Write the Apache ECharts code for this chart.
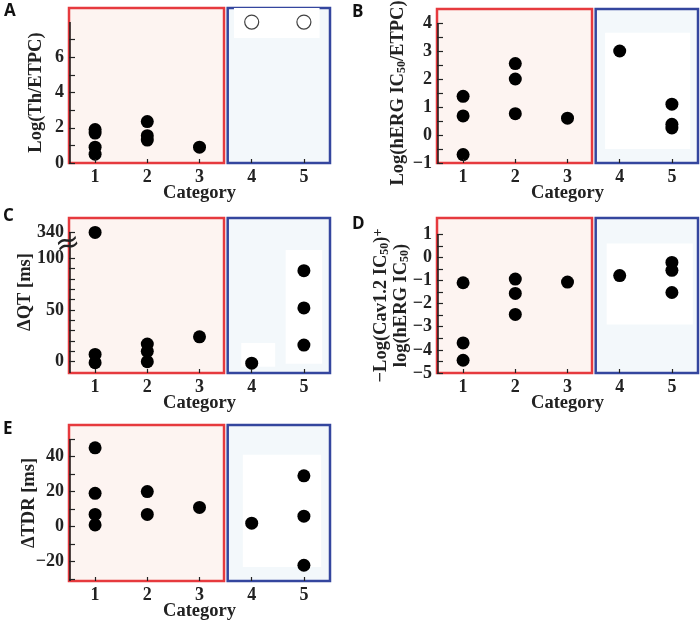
<!DOCTYPE html>
<html><head><meta charset="utf-8">
<script src="https://cdn.jsdelivr.net/npm/echarts@6/dist/echarts.min.js"></script>
<style>html,body{margin:0;padding:0;background:#fff}#c{width:700px;height:620px}</style>
</head><body><div id="c"></div>
<script>
// ---------- data ----------
const categories = [1, 2, 3, 4, 5];

// Panel A: Log(Th/ETPC)
const catA = [1, 1, 1, 1, 2, 2, 2, 3];
const valA = [1.9, 1.7, 0.9, 0.5, 2.35, 1.55, 1.3, 0.9];
const catAOpen = [4, 5];
const valAOpen = [8, 8];
const ticksA = [0, 2, 4, 6];

// Panel B: Log(hERG IC50/ETPC)
const catB = [1, 1, 1, 2, 2, 2, 3, 4, 5, 5, 5];
const valB = [1.38, 0.68, -0.7, 2.55, 2.0, 0.76, 0.6, 3.0, 1.1, 0.38, 0.25];
const ticksB = [-1, 0, 1, 2, 3, 4];

// Panel C: ΔQT [ms]  (axis broken between 100 and 340)
const catC = [1, 1, 1, 2, 2, 2, 3, 4, 5, 5, 5];
const valC = [340, 7, -1, 17, 10, 0, 24, -1.5, 88, 52, 16];
const ticksC = [0, 50, 100, 340];

// Panel D: -Log(Cav1.2 IC50)+log(hERG IC50)
const catD = [1, 1, 1, 2, 2, 2, 3, 4, 5, 5, 5];
const valD = [-1.1, -3.7, -4.45, -0.94, -1.56, -2.47, -1.07, -0.79, -0.22, -0.56, -1.52];
const ticksD = [-5, -4, -3, -2, -1, 0, 1];

// Panel E: ΔTDR [ms]
const catE = [1, 1, 1, 1, 2, 2, 3, 4, 5, 5, 5];
const valE = [45, 19, 7, 1, 20, 7, 11, 2, 29, 6, -22];
const ticksE = [-20, 0, 20, 40];

// ---------- helpers ----------
const BREAK_LO = 110, BREAK_SHIFT = 215; // values above the break are shifted down by 215
const brk = v => (v > BREAK_LO ? v - BREAK_SHIFT : v);
const unbrk = v => (v > BREAK_LO ? v + BREAK_SHIFT : v);
const pts = (c, v, f) => c.map((x, i) => [x, f ? f(v[i]) : v[i]]);
const minus = v => String(v).replace('-', '\u2212');
const range = (a, b, s) => { const r = []; for (let v = a; v <= b + 1e-9; v += s) r.push(+v.toFixed(4)); return r; };

const SERIF = '"Liberation Serif", "DejaVu Serif", serif';
const RED = '#e63a3e', BLUE = '#34469e';
const RED_FILL = '#fdf4f1', BLUE_FILL = '#f3f8fb';
const LBL = 18, NM = 18.5;

const panels = [
  { grid: { left: 69, top: 8, width: 261, height: 155 }, min: 0, max: 8.8, axisTop: 8,
    labels: ticksA, minor: range(0, 7, 1), name: 'Log(Th/ETPC)', nameGap: 23, pad: [0, 14, 0, 0],
    whites: [[3.66, 7.1, 5.3, 8.8]] },
  { grid: { left: 437, top: 9, width: 261, height: 154 }, min: -1, max: 4.5, axisTop: 4,
    labels: ticksB, minor: range(-1, 4, 0.5),
    name: '{n|Log(hERG IC}{s|50}{n|/ETPC)}', nameGap: 29, pad: [0, 14, 0, 0],
    whites: [[3.72, -0.5, 5.35, 3.65]] },
  { grid: { left: 69, top: 218, width: 261, height: 155 }, min: -11, max: 139, axisTop: brk(340),
    labels: ticksC.map(brk), minor: range(0, 100, 10).concat([brk(340)]), name: 'ΔQT [ms]', nameGap: 34, pad: [0, 0, 0, 7],
    fmt: v => String(unbrk(v)),
    whites: [[3.8, -5, 4.45, 18], [4.65, -2, 5.35, 108]] },
  { grid: { left: 437, top: 218, width: 261, height: 155 }, min: -5, max: 1.7, axisTop: 1,
    labels: ticksD, minor: range(-5, 1, 0.5),
    name: '{n|\u2212Log(Cav1.2 IC}{s|50}{n|)}{p|+}\n{n|log(hERG IC}{s|50}{n|)}', nameGap: 26, pad: [0, 20, 0, 0],
    whites: [[3.75, -2.9, 5.4, 0.6]] },
  { grid: { left: 69, top: 425, width: 261, height: 156 }, min: -31, max: 58, axisTop: 50,
    labels: ticksE, minor: range(-30, 50, 10), name: 'ΔTDR [ms]', nameGap: 30, pad: [0, 0, 0, 0],
    whites: [[3.83, -23, 5.33, 41]] }
];
const dataSets = [pts(catA, valA), pts(catB, valB), pts(catC, valC, brk), pts(catD, valD), pts(catE, valE)];

const grids = [], xAxes = [], yAxes = [], series = [];
panels.forEach((p, i) => {
  grids.push(Object.assign({ outerBoundsMode: 'none', containLabel: false }, p.grid));
  xAxes.push({
    type: 'value', gridIndex: i, min: 0.5, max: 5.5, z: 10, position: 'bottom',
    name: 'Category', nameLocation: 'middle', nameGap: 21, nameMoveOverlap: false,
    nameTextStyle: { fontFamily: SERIF, fontWeight: 'bold', fontSize: NM, color: '#222' },
    axisLine: { show: false, onZero: false }, splitLine: { show: false },
    axisTick: { show: true, inside: true, length: 4, customValues: categories, lineStyle: { color: '#222', width: 1.2 } },
    axisLabel: { customValues: categories, margin: 5, fontFamily: SERIF, fontWeight: 'bold', fontSize: LBL, color: '#222' }
  });
  yAxes.push({
    type: 'value', gridIndex: i, min: p.min, max: p.max, z: 10, position: 'left',
    name: p.name, nameLocation: 'middle', nameGap: p.nameGap, nameRotate: 90, nameMoveOverlap: false,
    nameTextStyle: {
      fontFamily: SERIF, fontWeight: 'bold', fontSize: NM, color: '#222', lineHeight: 20, padding: p.pad,
      rich: {
        n: { fontFamily: SERIF, fontWeight: 'bold', fontSize: NM, color: '#222', lineHeight: 20, verticalAlign: 'middle' },
        s: { fontFamily: SERIF, fontWeight: 'bold', fontSize: 12, color: '#222', lineHeight: 20, verticalAlign: 'bottom', padding: [6, 0, 0, 0] },
        p: { fontFamily: SERIF, fontWeight: 'bold', fontSize: 14, color: '#222', lineHeight: 20, verticalAlign: 'top' }
      }
    },
    axisLine: { show: false, onZero: false }, splitLine: { show: false },
    axisTick: { show: true, inside: true, length: 6, customValues: p.minor, lineStyle: { color: '#222', width: 1.2 } },
    axisLabel: { customValues: p.labels, margin: 5, fontFamily: SERIF, fontWeight: 'bold', fontSize: LBL, color: '#222',
      formatter: p.fmt ? (v => p.fmt(v)) : (v => minus(v)) }
  });
  const areas = [
    [{ xAxis: 0.5, yAxis: p.min, itemStyle: { color: RED_FILL, borderColor: RED, borderWidth: 2.5 } }, { xAxis: 3.47, yAxis: p.max }],
    [{ xAxis: 3.54, yAxis: p.min, itemStyle: { color: BLUE_FILL, borderColor: BLUE, borderWidth: 2.5 } }, { xAxis: 5.5, yAxis: p.max }]
  ];
  p.whites.forEach(w => areas.push([{ xAxis: w[0], yAxis: w[1], itemStyle: { color: '#ffffff', borderWidth: 0 } }, { xAxis: w[2], yAxis: w[3] }]));
  series.push({
    type: 'scatter', xAxisIndex: i, yAxisIndex: i, data: [], z: 1, silent: true,
    markArea: { silent: true, data: areas, label: { show: false } },
    markLine: { silent: true, symbol: 'none', label: { show: false },
      lineStyle: { color: '#1a1a1a', width: 1.5, type: 'solid' },
      data: [[{ coord: [0.523, p.min] }, { coord: [0.523, p.axisTop] }]] }
  });
  series.push({
    type: 'scatter', xAxisIndex: i, yAxisIndex: i, data: dataSets[i], z: 5,
    symbol: 'circle', symbolSize: 13, itemStyle: { color: '#000', opacity: 1 }
  });
});
// open circles in panel A
series.push({
  type: 'scatter', xAxisIndex: 0, yAxisIndex: 0, data: pts(catAOpen, valAOpen), z: 5,
  symbol: 'circle', symbolSize: 14, itemStyle: { color: '#fff', borderColor: '#111', borderWidth: 1.2 }
});

const letters = ['A', 'B', 'C', 'D', 'E'];
const letterPos = [[4, 3], [352, 4], [3, 208], [352, 216], [3, 421]];
const graphic = letters.map((t, i) => ({
  type: 'text', left: letterPos[i][0], top: letterPos[i][1],
  style: { text: t, fontFamily: '"Open Sans", "DejaVu Sans", sans-serif', fontWeight: 'bold', fontSize: 17, fill: '#111' }
}));

const chart = echarts.init(document.getElementById('c'), null, { renderer: 'canvas' });
chart.setOption({ animation: false, backgroundColor: '#fff', grid: grids, xAxis: xAxes, yAxis: yAxes, series, graphic });

// axis-break mark (≈) on panel C, placed through the panel's own scale
const bp = chart.convertToPixel({ gridIndex: 2 }, [0.5, 113]);
graphic.push({
  type: 'text', x: bp[0] - 1, y: bp[1], z: 20, rotation: 0.25,
  style: { text: '\u2248', fontFamily: '"DejaVu Sans", sans-serif', fontSize: 30, fill: '#222', align: 'center', verticalAlign: 'middle' }
});
chart.setOption({ graphic });
</script></body></html>
